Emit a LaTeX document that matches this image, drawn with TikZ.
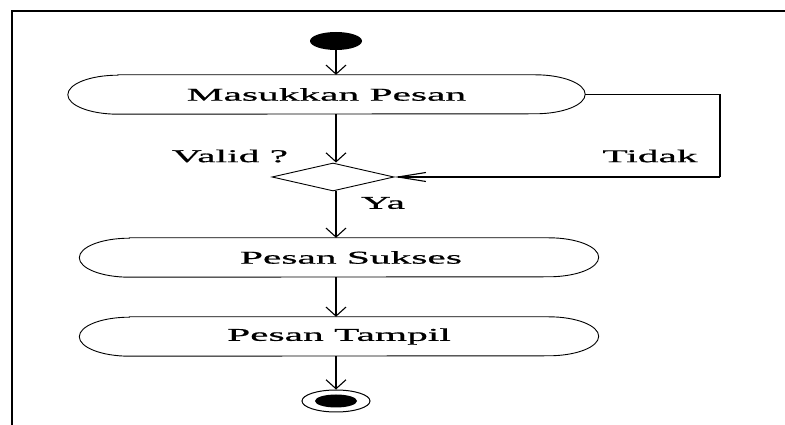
\documentclass[tikz,border=0pt]{standalone}
\usepackage{fontspec}
\setmainfont[FakeStretch=2.3,FakeBold=0.9]{Liberation Serif}
\usetikzlibrary{arrows.meta,shapes.geometric}
\newcommand\actoutline[1]{%
  \draw[boxline] ([xshift=50pt]#1.north west) -- ([xshift=-50pt]#1.north east)
    arc[start angle=90,end angle=-90,x radius=50pt,y radius=19.5pt]
    -- ([xshift=50pt]#1.south west)
    arc[start angle=270,end angle=90,x radius=50pt,y radius=19.5pt] -- cycle;}
\begin{document}
\begin{tikzpicture}[x=1pt,y=1pt,
  txt/.style={font=\fontsize{18pt}{20pt}\selectfont, inner sep=0pt},
  actbox/.style={txt, minimum width=#1, minimum height=39pt, inner sep=0pt},
  boxline/.style={line width=0.9pt, black},
  conn/.style={line width=1.3pt, black},
  varr/.style={conn, -{Straight Barb[length=9pt,width=20pt,line width=1.1pt]}},
  harr/.style={conn, -{Straight Barb[length=28pt,width=9pt,line width=1.1pt]}},
  frame/.style={line width=1.6pt, black}]
\useasboundingbox (0,0) rectangle (785,425);
% frame
\draw[frame] (12,0) -- (12,414) -- (785,414);
% start
\node[ellipse, fill=black, minimum width=52pt, minimum height=18pt, inner sep=0pt] (start) at (336,384) {};
% activities
\node[actbox=517pt] (ms) at (326.5,330.5) {Masukkan Pesan};
\actoutline{ms}
\node[diamond, draw, boxline, minimum width=122pt, minimum height=28pt, inner sep=0pt, aspect=4.36] (dm) at (333,248) {};
\node[actbox=519pt] (ps) at (339,167.5) {\hspace*{24pt}Pesan Sukses};
\actoutline{ps}
\node[actbox=519pt] (pt) at (339,88.5) {Pesan Tampil};
\actoutline{pt}
% end
\node[ellipse, draw, line width=1pt, minimum width=68pt, minimum height=22pt, inner sep=0pt] (end) at (336,24) {};
\fill (end.center) ellipse [x radius=21pt, y radius=6.5pt];
% labels
\node[txt] (valid) at (230,269) {Valid ?};
\node[txt] (tidak) at (650,269) {Tidak};
\node[txt] (ya) at (383,222) {Ya};
% connectors
\coordinate (c1) at (720,330.5);
\coordinate (c2) at (720,248);
\draw[varr] (start.south) -- (start.south |- ms.north);
\draw[varr] (start |- ms.south) -- (start |- dm.north);
\draw[varr] (start |- dm.south) -- (start |- ps.north);
\draw[varr] (start |- ps.south) -- (start |- pt.north);
\draw[varr] (start |- pt.south) -- (start |- end.north);
\draw[conn] (ms.east) -- (c1) -- (c2);
\draw[harr] (c2) -- (dm.east);
\end{tikzpicture}
\end{document}
